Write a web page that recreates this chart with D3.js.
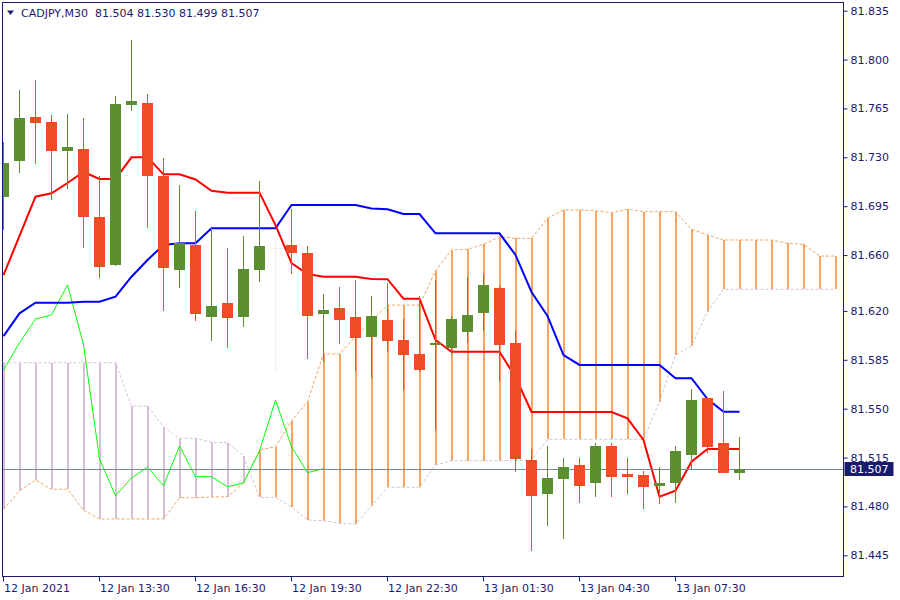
<!DOCTYPE html>
<html><head><meta charset="utf-8">
<script src="https://cdn.jsdelivr.net/npm/d3@7"></script>
<style>
html,body{margin:0;padding:0;background:#fff;}
svg{display:block;font-family:"DejaVu Sans",sans-serif;}
</style></head><body>
<svg id="chart" width="900" height="600"></svg>
<script>
// ---------------- DATA ----------------
const symbolTitle = "CADJPY,M30  81.504 81.530 81.499 81.507";
const opens  = [81.7016,81.7274,81.7589,81.7553,81.7347,81.7362,81.6875,81.6529,81.7677,81.7689,
                81.7168,81.6495,81.6672,81.6159,81.6257,81.6159,81.6495,81.6649,81.6672,81.6617,
                81.6180,81.6221,81.6157,81.6015,81.6135,81.5992,81.5892,81.5958,81.5937,81.6051,
                81.6187,81.6364,81.5968,81.5132,81.4891,81.4999,81.5097,81.4970,81.5233,81.5032,
                81.5025,81.4948,81.4970,81.5170,81.5574,81.5256,81.504];
const highs  = [81.7410,81.7782,81.7854,81.7603,81.7610,81.7584,81.7168,81.7739,81.8140,81.7754,
                81.7297,81.7102,81.6916,81.6792,81.6649,81.6737,81.7130,81.6701,81.6930,81.6665,
                81.6321,81.6369,81.6422,81.6307,81.6398,81.6142,81.6307,81.6422,81.6164,81.6445,
                81.6464,81.6379,81.6056,81.5211,81.5233,81.5147,81.5147,81.5252,81.5252,81.5147,
                81.5054,81.5082,81.5233,81.5641,81.5578,81.5627,81.530];
const lows   = [81.6780,81.7190,81.7252,81.6994,81.7075,81.6649,81.6438,81.6522,81.7632,81.6792,
                81.6202,81.6366,81.6130,81.5987,81.5937,81.6087,81.6409,81.5770,81.6468,81.5858,
                81.5834,81.5963,81.5772,81.5722,81.5908,81.5634,81.5763,81.5347,81.5884,81.5970,
                81.6058,81.5698,81.5049,81.4483,81.4662,81.4569,81.4827,81.4870,81.4870,81.4891,
                81.4779,81.4820,81.4827,81.5063,81.5180,81.5042,81.499];
const closes = [81.7259,81.7584,81.7548,81.7347,81.7376,81.6875,81.6517,81.7682,81.7706,81.7168,
                81.6510,81.6684,81.6180,81.6235,81.6152,81.6500,81.6665,81.6649,81.6617,81.6166,
                81.6207,81.6137,81.6008,81.6164,81.5987,81.5887,81.5777,81.5972,81.6142,81.6171,
                81.6386,81.5958,81.5140,81.4877,81.5004,81.5082,81.4948,81.5233,81.5013,81.5013,
                81.4941,81.4968,81.5197,81.5562,81.5228,81.5042,81.507];
const tenkan = [81.6457,81.6737,81.7018,81.7042,81.7116,81.7195,81.7145,81.7145,81.7300,81.7300,
                81.7178,81.7178,81.7141,81.7061,81.7047,81.7047,81.7047,81.6815,81.6543,81.6464,
                81.6445,81.6445,81.6445,81.6429,81.6427,81.6288,81.6288,81.5992,81.5908,81.5908,
                81.5908,81.5908,81.5727,81.5476,81.5476,81.5476,81.5476,81.5476,81.5476,81.5431,
                81.5276,81.4870,81.4913,81.5120,81.5211,81.5211,81.5211];
const kijun  = [81.6020,81.6183,81.6259,81.6259,81.6259,81.6266,81.6266,81.6302,81.6445,81.6565,
                81.6672,81.6684,81.6684,81.6792,81.6792,81.6792,81.6792,81.6792,81.6959,81.6959,
                81.6959,81.6959,81.6959,81.6934,81.6928,81.6894,81.6894,81.6756,81.6756,81.6756,
                81.6756,81.6756,81.6601,81.6336,81.6164,81.5884,81.5813,81.5813,81.5813,81.5813,
                81.5813,81.5813,81.5718,81.5718,81.5569,81.5478,81.5478];
const spanA  = [81.4779,81.4913,81.4989,81.4923,81.4923,81.4774,81.4710,81.4710,81.4710,81.4710,
                81.4710,81.4862,81.4862,81.4867,81.4870,81.4966,81.5204,81.5228,81.5412,81.5550,
                81.5892,81.5892,81.6015,81.6128,81.6242,81.6242,81.6242,81.6486,81.6636,81.6641,
                81.6677,81.6732,81.6720,81.6720,81.6863,81.6923,81.6923,81.6918,81.6903,81.6928,
                81.6911,81.6911,81.6911,81.6785,81.6744,81.6708,81.6708,81.6708,81.6708,81.6684,
                81.6677,81.6593,81.6593];
const spanB  = [81.5829,81.5829,81.5829,81.5829,81.5829,81.5829,81.5829,81.5829,81.5519,81.5519,
                81.5371,81.5288,81.5288,81.5259,81.5256,81.5161,81.4865,81.4865,81.4794,81.4703,
                81.4698,81.4679,81.4674,81.4803,81.4937,81.4937,81.4937,81.5097,81.5127,81.5127,
                81.5127,81.5127,81.5127,81.5132,81.5281,81.5281,81.5281,81.5281,81.5281,81.5281,
                81.5281,81.5550,81.5884,81.5949,81.6194,81.6355,81.6355,81.6355,81.6355,81.6355,
                81.6355,81.6355,81.6355];
const chikouShift = 26;
const timeTickIndex  = [0, 6, 12, 18, 24, 30, 36, 42];
const timeTickLabels = ["12 Jan 2021","12 Jan 13:30","12 Jan 16:30","12 Jan 19:30",
                        "12 Jan 22:30","13 Jan 01:30","13 Jan 04:30","13 Jan 07:30"];
const priceTicks = [81.835,81.800,81.765,81.730,81.695,81.660,81.620,81.585,81.550,81.515,81.480,81.445];
const lastPrice = 81.507;

// ---------------- STYLE ----------------
const C = {
  axis:"#1a1a6e", text:"#1a1a6e", bull:"#5b8f30", bear:"#f24c26", doji:"#f8ece0",
  tenkan:"#ff0000", kijun:"#0000ff", chikou:"#00ff00",
  up:"#f4a460", down:"#d8bfd8", priceLine:"#778899", priceBox:"#1a1a6e"
};
const L=2.5, R=843.5, T=2.5, B=576.5;

const svg = d3.select("#chart");
const x = d3.scaleLinear().domain([0, 52]).range([3.5, 835.5]);
const y = d3.scaleLinear().domain([81.445, 81.835]).range([555.3, 10.7]);

svg.append("defs").append("clipPath").attr("id","plotclip")
  .append("rect").attr("x",L).attr("y",T).attr("width",R-L).attr("height",B-T);

const plot = svg.append("g").attr("clip-path","url(#plotclip)");

// Cloud histogram
plot.append("g").selectAll("line").data(spanA).join("line")
  .attr("x1",(d,i)=>x(i)).attr("x2",(d,i)=>x(i))
  .attr("y1",d=>y(d)).attr("y2",(d,i)=>y(spanB[i]))
  .attr("stroke",(d,i)=> d>=spanB[i] ? C.up : C.down)
  .attr("stroke-width",2).attr("shape-rendering","crispEdges");

const lineGen = d3.line().x((d,i)=>x(i)).y(d=>y(d));
plot.append("path").datum(spanA).attr("d",lineGen).attr("fill","none")
  .attr("stroke",C.up).attr("stroke-width",1).attr("stroke-dasharray","3,2");
plot.append("path").datum(spanB).attr("d",lineGen).attr("fill","none")
  .attr("stroke",C.down).attr("stroke-width",1).attr("stroke-dasharray","3,2");

// Chikou (closes shifted back)
const chikou = closes.slice(chikouShift);
plot.append("path").datum(chikou).attr("d",lineGen).attr("fill","none")
  .attr("stroke",C.chikou).attr("stroke-width",1);

// Tenkan & Kijun
plot.append("path").datum(kijun).attr("d",lineGen).attr("fill","none")
  .attr("stroke",C.kijun).attr("stroke-width",2);
plot.append("path").datum(tenkan).attr("d",lineGen).attr("fill","none")
  .attr("stroke",C.tenkan).attr("stroke-width",2);

// Price line
plot.append("line").attr("x1",L).attr("x2",R)
  .attr("y1",Math.round(y(lastPrice))+0.5).attr("y2",Math.round(y(lastPrice))+0.5)
  .attr("stroke",C.priceLine).attr("stroke-width",1);

// Candles
const candles = opens.map((o,i)=>({i,o,h:highs[i],l:lows[i],c:closes[i]}));
const colorOf = d => d.c>d.o ? C.bull : (d.c<d.o ? C.bear : C.doji);
const cg = plot.append("g").selectAll("g").data(candles).join("g");
cg.append("line")
  .attr("x1",d=>x(d.i)).attr("x2",d=>x(d.i))
  .attr("y1",d=>y(d.h)).attr("y2",d=>y(d.l))
  .attr("stroke",colorOf).attr("stroke-width",1).attr("shape-rendering","crispEdges");
cg.append("rect")
  .attr("x",d=>x(d.i)-5.5).attr("width",11)
  .attr("y",d=>y(Math.max(d.o,d.c)))
  .attr("height",d=>Math.max(1,Math.abs(y(d.o)-y(d.c))))
  .attr("fill",colorOf).attr("shape-rendering","crispEdges");

// Frame
svg.append("rect").attr("x",L).attr("y",T).attr("width",R-L).attr("height",B-T)
  .attr("fill","none").attr("stroke",C.axis).attr("stroke-width",1);

// Right axis
const yAxis = svg.append("g").attr("transform",`translate(${R},0)`)
  .call(d3.axisRight(y).tickValues(priceTicks).tickFormat(d3.format(".3f")).tickSize(4).tickPadding(3));
yAxis.select(".domain").remove();
yAxis.selectAll("line").attr("stroke",C.axis);
yAxis.selectAll("text").attr("fill",C.text).style("font-size","11px").style("font-family","DejaVu Sans");

// Bottom axis
const xAxis = svg.append("g").attr("transform",`translate(-0.5,${B})`)
  .call(d3.axisBottom(x).tickValues(timeTickIndex)
    .tickFormat(d=>timeTickLabels[timeTickIndex.indexOf(d)]).tickSize(5).tickPadding(3));
xAxis.select(".domain").remove();
xAxis.selectAll("line").attr("stroke",C.axis);
xAxis.selectAll("text").attr("fill",C.text).attr("text-anchor","start").attr("dx","0.5")
  .style("font-size","11px").style("font-family","DejaVu Sans");

// Last price box
const py = y(lastPrice);
svg.append("rect").attr("x",844.5).attr("y",Math.round(py)-7).attr("width",49).attr("height",14)
  .attr("fill",C.priceBox);
svg.append("text").attr("x",850).attr("y",py).attr("dy","0.35em")
  .attr("fill","#ffffff").style("font-size","11px").text(d3.format(".3f")(lastPrice));

// Header
svg.append("path").attr("d","M7,10.5 L14,10.5 L10.5,15 Z").attr("fill",C.text);
svg.append("text").attr("x",21).attr("y",17).attr("fill",C.text)
  .style("font-size","11px").style("white-space","pre").text(symbolTitle);
</script>
</body></html>
